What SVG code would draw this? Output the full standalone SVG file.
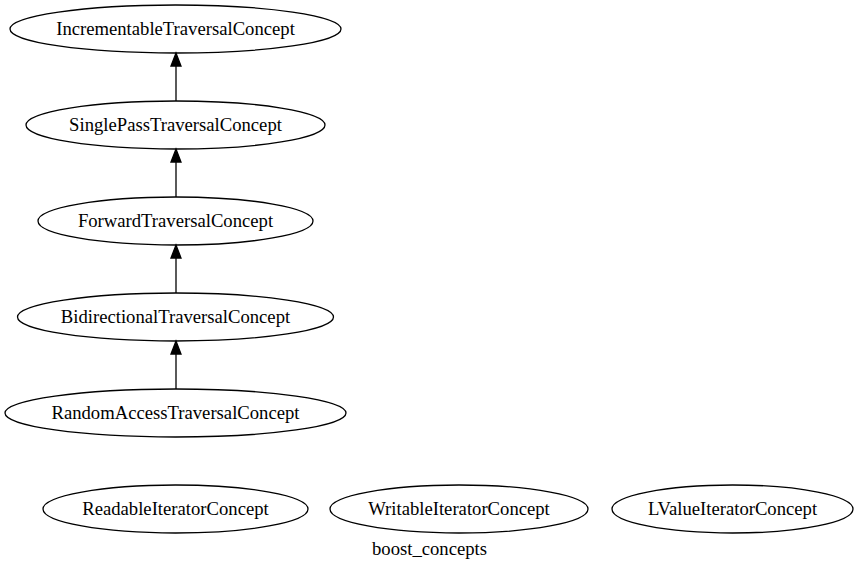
<svg xmlns="http://www.w3.org/2000/svg" width="859" height="568" viewBox="0 0 859 568">
<style>
.n ellipse{fill:none;stroke:#000;stroke-width:1.3}
text{font-family:"Liberation Serif","Times New Roman",serif;font-size:18.67px;fill:#000;text-anchor:middle}
.e line{stroke:#000;stroke-width:1.3}
.e polygon{fill:#000;stroke:#000;stroke-width:1.3}
</style>
<rect width="859" height="568" fill="#fff"/>
<g id="IncrementableTraversalConcept" class="n"><ellipse cx="175.5" cy="29" rx="165.5" ry="24"/><text x="175.5" y="35">IncrementableTraversalConcept</text></g>
<g id="SinglePassTraversalConcept" class="n"><ellipse cx="175.5" cy="125" rx="149.5" ry="24"/><text x="175.5" y="131">SinglePassTraversalConcept</text></g>
<g id="ForwardTraversalConcept" class="n"><ellipse cx="175.5" cy="221" rx="137.5" ry="24"/><text x="175.5" y="227">ForwardTraversalConcept</text></g>
<g id="BidirectionalTraversalConcept" class="n"><ellipse cx="175.5" cy="317" rx="158" ry="24"/><text x="175.5" y="323">BidirectionalTraversalConcept</text></g>
<g id="RandomAccessTraversalConcept" class="n"><ellipse cx="175.5" cy="413" rx="170.5" ry="24"/><text x="175.5" y="419">RandomAccessTraversalConcept</text></g>
<g id="ReadableIteratorConcept" class="n"><ellipse cx="175.5" cy="509" rx="132.5" ry="24"/><text x="175.5" y="515">ReadableIteratorConcept</text></g>
<g id="WritableIteratorConcept" class="n"><ellipse cx="459" cy="509" rx="129" ry="24"/><text x="459" y="515">WritableIteratorConcept</text></g>
<g id="LValueIteratorConcept" class="n"><ellipse cx="732.5" cy="509" rx="120.5" ry="24"/><text x="732.5" y="515">LValueIteratorConcept</text></g>
<g id="edges" class="e">
<line x1="176" y1="101" x2="176" y2="66"/><polygon points="171,66 176,53 181,66"/>
<line x1="176" y1="197" x2="176" y2="162"/><polygon points="171,162 176,149 181,162"/>
<line x1="176" y1="293" x2="176" y2="258"/><polygon points="171,258 176,245 181,258"/>
<line x1="176" y1="389" x2="176" y2="354"/><polygon points="171,354 176,341 181,354"/>
</g>
<text id="label" x="429.5" y="555">boost_concepts</text>
</svg>
